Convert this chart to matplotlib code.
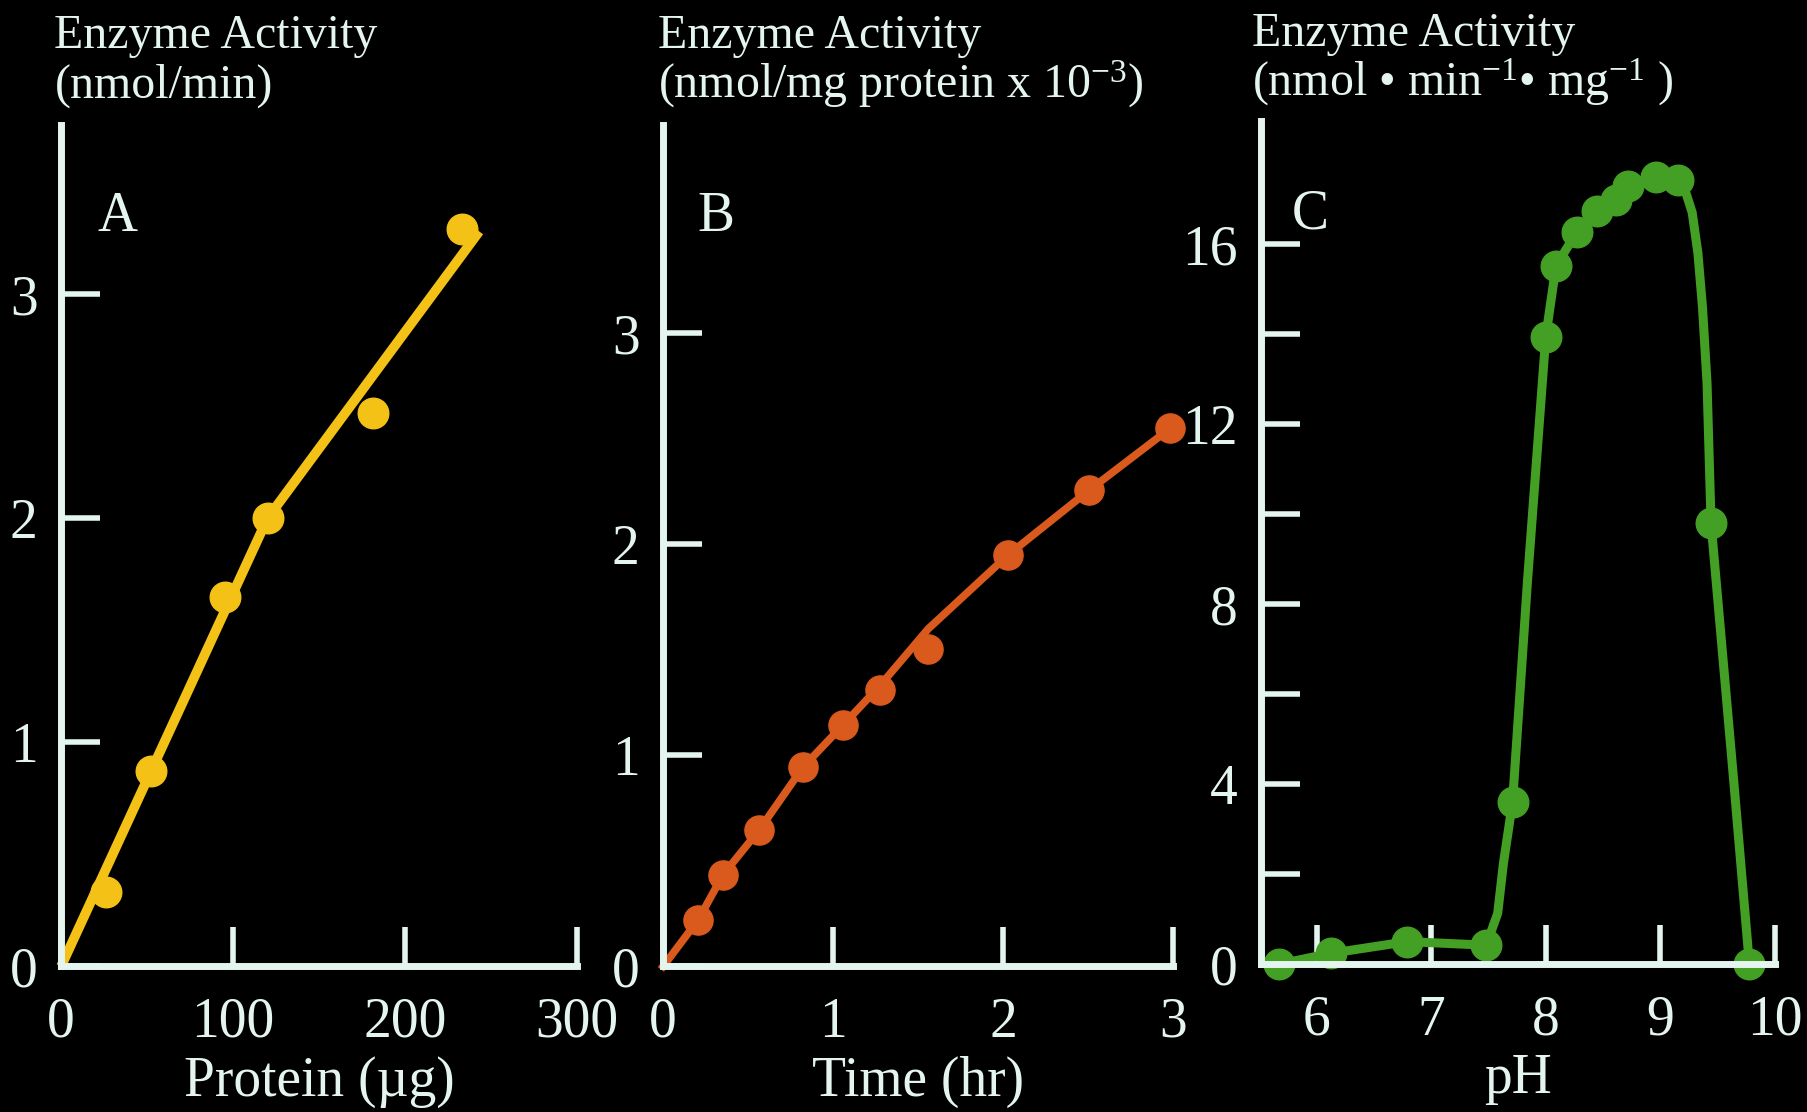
import matplotlib
matplotlib.use("Agg")
import matplotlib.pyplot as plt

plt.rcParams["font.family"] = ["Liberation Serif", "DejaVu Serif"]
plt.rcParams["mathtext.fontset"] = "custom"
plt.rcParams["mathtext.rm"] = "Liberation Serif"
plt.rcParams["mathtext.it"] = "Liberation Serif:italic"

BG = "black"
FG = "#E4F4EF"
YELLOW = "#F4C216"
ORANGE = "#D95A1C"
GREEN = "#43A024"

# Panel A: activity vs protein
protein_ug = [26, 52.5, 95.5, 120, 181, 233]
activity_a = [0.33, 0.87, 1.65, 2.0, 2.47, 3.29]
fit_a_x = [0, 120, 243]
fit_a_y = [0, 2.0, 3.28]

# Panel B: activity vs time
time_hr = [0.206, 0.353, 0.565, 0.824, 1.06, 1.275, 1.56, 2.03, 2.507, 2.98]
activity_b = [0.22, 0.435, 0.646, 0.945, 1.145, 1.31, 1.506, 1.95, 2.257, 2.55]
fit_b_x = [0, 0.206, 0.353, 0.565, 0.824, 1.06, 1.275, 1.56, 2.03, 2.507, 3.0]
fit_b_y = [0, 0.22, 0.435, 0.646, 0.945, 1.145, 1.33, 1.6, 1.95, 2.257, 2.56]

# Panel C: activity vs pH
ph = [5.67, 6.12, 6.79, 7.48, 7.71, 8.0, 8.09, 8.27, 8.45, 8.61, 8.72, 8.96, 9.16, 9.445, 9.78]
activity_c = [0.0, 0.24, 0.5, 0.42, 3.6, 13.94, 15.52, 16.26, 16.73, 16.99, 17.28, 17.5, 17.43, 9.8, 0.0]
curve_ph = [5.67, 6.12, 6.79, 7.48, 7.58, 7.63, 7.71, 7.84, 8.0, 8.09, 8.27, 8.45, 8.61,
            8.72, 8.96, 9.16, 9.23, 9.28, 9.33, 9.37, 9.41, 9.445, 9.64, 9.78]
curve_act = [0.0, 0.24, 0.5, 0.42, 1.13, 2.24, 3.6, 8.5, 13.94, 15.52, 16.26, 16.73, 16.99,
             17.28, 17.5, 17.43, 17.1, 16.7, 15.8, 14.6, 12.9, 9.8, 4.16, 0.0]

ticks_a_x = [0, 100, 200, 300]
ticks_a_y = [0, 1, 2, 3]
ticks_b_x = [0, 1, 2, 3]
ticks_b_y = [0, 1, 2, 3]
ticks_c_x = [6, 7, 8, 9, 10]
ticks_c_y = [0, 2, 4, 6, 8, 10, 12, 14, 16]
labels_c_y = ["0", "", "4", "", "8", "", "12", "", "16"]

fig = plt.figure(figsize=(18.08, 11.12), dpi=100, facecolor=BG)
ax_a = fig.add_axes([0.0338, 0.131, 0.2855, 0.757])
ax_b = fig.add_axes([0.3668, 0.131, 0.2820, 0.757])
ax_c = fig.add_axes([0.6974, 0.133, 0.2841, 0.758])


def style(ax):
    ax.set_facecolor(BG)
    for side in ["top", "right"]:
        ax.spines[side].set_visible(False)
    for side in ["left", "bottom"]:
        ax.spines[side].set_color(FG)
        ax.spines[side].set_linewidth(5)
    ax.tick_params(direction="in", length=28, width=4, colors=FG,
                   labelsize=40, pad=17)
    ax.tick_params(axis="x", pad=22)
    ax.xaxis.set_label_coords(0.5, -0.106)


def heading(ax, x, y1, y2, line1, line2):
    ax.text(x, y1, line1, transform=ax.transAxes, color=FG, fontsize=34.5,
            va="baseline", ha="left")
    ax.text(x, y2, line2, transform=ax.transAxes, color=FG, fontsize=34.5,
            va="baseline", ha="left")


for ax in [ax_a, ax_b, ax_c]:
    style(ax)

# A
ax_a.plot(fit_a_x, fit_a_y, color=YELLOW, lw=7, solid_capstyle="butt", clip_on=False)
ax_a.plot(protein_ug, activity_a, "o", color=YELLOW, ms=22, clip_on=False)
ax_a.set_xlim(0, 300)
ax_a.set_ylim(0, 3.757)
ax_a.set_xticks(ticks_a_x)
ax_a.set_yticks(ticks_a_y)
ax_a.set_xlabel("Protein (\u00b5g)", color=FG, fontsize=40, va="top")
ax_a.text(0.07, 0.874, "A", transform=ax_a.transAxes, color=FG, fontsize=40)
heading(ax_a, -0.013, 1.0904, 1.0315, "Enzyme Activity", "(nmol/min)")

# B
ax_b.plot(fit_b_x, fit_b_y, color=ORANGE, lw=5.5, clip_on=False)
ax_b.plot(time_hr, activity_b, "o", color=ORANGE, ms=21, clip_on=False)
ax_b.set_xlim(0, 3)
ax_b.set_ylim(0, 3.99)
ax_b.set_xticks(ticks_b_x)
ax_b.set_yticks(ticks_b_y)
ax_b.set_xlabel("Time (hr)", color=FG, fontsize=40, va="top")
ax_b.text(0.068, 0.874, "B", transform=ax_b.transAxes, color=FG, fontsize=40)
heading(ax_b, -0.011, 1.0904, 1.0315, "Enzyme Activity",
        "(nmol/mg protein x 10$^{\\mathregular{-3}}$)")

# C
ax_c.plot(curve_ph, curve_act, color=GREEN, lw=6.5, clip_on=False)
ax_c.plot(ph, activity_c, "o", color=GREEN, ms=22, clip_on=False)
ax_c.set_xlim(5.51, 10)
ax_c.set_ylim(0, 18.73)
ax_c.set_xticks(ticks_c_x)
ax_c.set_yticks(ticks_c_y)
ax_c.set_yticklabels(labels_c_y)
ax_c.set_xlabel("pH", color=FG, fontsize=40, va="top")
ax_c.text(0.06, 0.873, "C", transform=ax_c.transAxes, color=FG, fontsize=40)
heading(ax_c, -0.017, 1.0897, 1.0308, "Enzyme Activity",
        "(nmol \u2022 min$^{\\mathregular{-1}}$\u2022 mg$^{\\mathregular{-1}}$ )")

fig.savefig("out.png", dpi=100, facecolor=BG)
